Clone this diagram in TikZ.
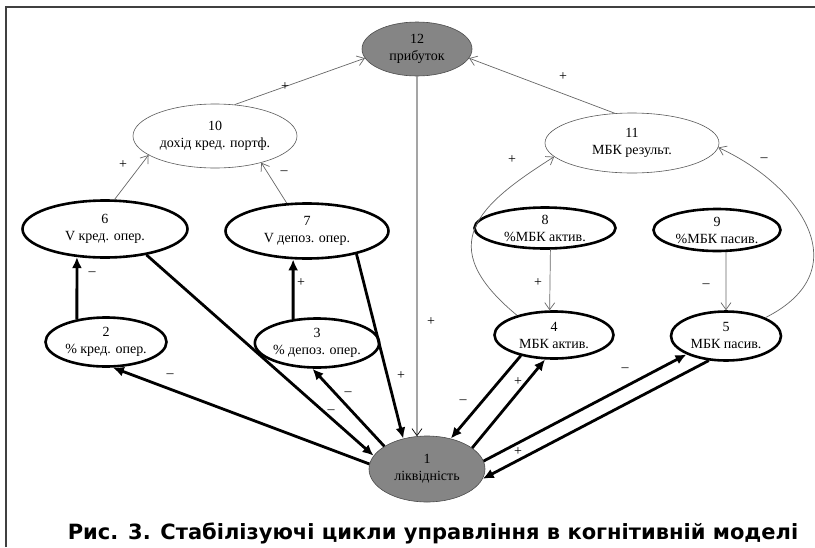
\documentclass[tikz,border=0pt]{standalone}
\usepackage{fontspec}
\setmainfont{Liberation Serif}
\newfontfamily\capfont{DejaVu Sans}
\usetikzlibrary{arrows.meta,shapes.geometric}

\begin{document}
\begin{tikzpicture}[x=1pt,y=-1pt,
    every node/.style={font=\fontsize{14}{17}\selectfont},
    factor/.style={ellipse,draw,align=center,inner sep=0pt},
    keyfactor/.style={factor,fill=black!48,draw=black!70,line width=0.6pt},
    sumfactor/.style={factor,draw=black!65,line width=0.6pt},
    ctrlfactor/.style={factor,line width=2.6pt},
    weak/.style={draw=black!60,line width=0.7pt,-{Straight Barb[length=7pt,width=10pt]}},
    strong/.style={line width=2.8pt,-{Latex[length=11pt,width=10pt]}},
    sign/.style={inner sep=0pt}]
  \useasboundingbox (0,0) rectangle (815,547);
  \draw[black!75,line width=1.2pt] (6,547) -- (6,7) -- (815,7);
  % vertices
  \node[keyfactor,minimum width=110pt,minimum height=54pt] (n12) at (417,49) {12\\прибуток};
  \node[sumfactor,minimum width=164pt,minimum height=64pt] (n10) at (215,136) {10\\дохід кред. портф.};
  \node[sumfactor,minimum width=174pt,minimum height=60pt] (n11) at (632,143) {11\\МБК результ.};
  \node[ctrlfactor,minimum width=165pt,minimum height=57pt] (n6) at (105,229) {6\\V кред. опер.};
  \node[ctrlfactor,minimum width=163pt,minimum height=55pt] (n7) at (307,231) {7\\V депоз. опер.};
  \node[ctrlfactor,minimum width=141pt,minimum height=41pt] (n8) at (545,228) {8\\\%МБК актив.};
  \node[ctrlfactor,minimum width=127pt,minimum height=42pt] (n9) at (717,230) {9\\\%МБК пасив.};
  \node[ctrlfactor,minimum width=121pt,minimum height=49pt] (n2) at (106,342) {2\\\% кред. опер.};
  \node[ctrlfactor,minimum width=121pt,minimum height=49pt] (n3) at (317,343) {3\\\% депоз. опер.};
  \node[ctrlfactor,minimum width=119pt,minimum height=47pt] (n4) at (554,335) {4\\МБК актив.};
  \node[ctrlfactor,minimum width=110pt,minimum height=49pt] (n5) at (726,336) {5\\МБК пасив.};
  \node[keyfactor,minimum width=116pt,minimum height=66pt] (n1) at (427,469) {1\\ліквідність};
  % thin links
  \draw[weak] (n10.58) -- (n12.190);
  \draw[weak] (n11.120) -- (n12.-10);
  \draw[weak] (n6.72) -- (n10.196);
  \draw[weak] (n7.126) -- (n10.-30);
  \draw[weak,draw=black] (n12.south) -- (n1.107);
  \draw[weak] (n8.-76) -- (n4.100);
  \draw[weak] (n9.-68) -- (n5.north);
  \draw[weak] (n4.152) .. controls (432,245) and (478,205) .. (n11.190);
  \draw[weak] (n5.25) .. controls (860,270) and (800,185) .. (n11.-3);
  % thick links
  \draw[strong] (n2.142) -- (n6.225);
  \draw[strong] (n3.135) -- (n7.244);
  \draw[strong] (n6.-32) -- (n1.166);
  \draw[strong] (n1.175) -- (n2.-75);
  \draw[strong] (n7.-25) -- (n1.128);
  \draw[strong] (n1.152) -- (n3.-100);
  \draw[strong] (n4.212) -- (n1.52);
  \draw[strong] (n1.25) -- (n4.250);
  \draw[strong] (n1.8) -- (n5.205);
  \draw[strong] (n5.235) -- (n1.-10);
  % signs
  \foreach \x/\y/\s [count=\i] in {285/87/+, 563/77/+, 123/165/+, 284/173/–,
      512/160/+, 764/160/–, 92/274/–, 301/283/+, 431/322/+, 538/283/+,
      706/286/–, 170/376/–, 348/394/–, 331/412/–, 401/376/+, 463/402/–,
      518/382/+, 625/370/–, 518/452/+}
    \node[sign] (sg\i) at (\x,\y) {\s};
  \node[anchor=base,font=\capfont\bfseries\fontsize{21}{25}\selectfont] (caption) at (433,539)
    {Рис. 3. Стабілізуючі цикли управління в когнітивній моделі};
\end{tikzpicture}
\end{document}
